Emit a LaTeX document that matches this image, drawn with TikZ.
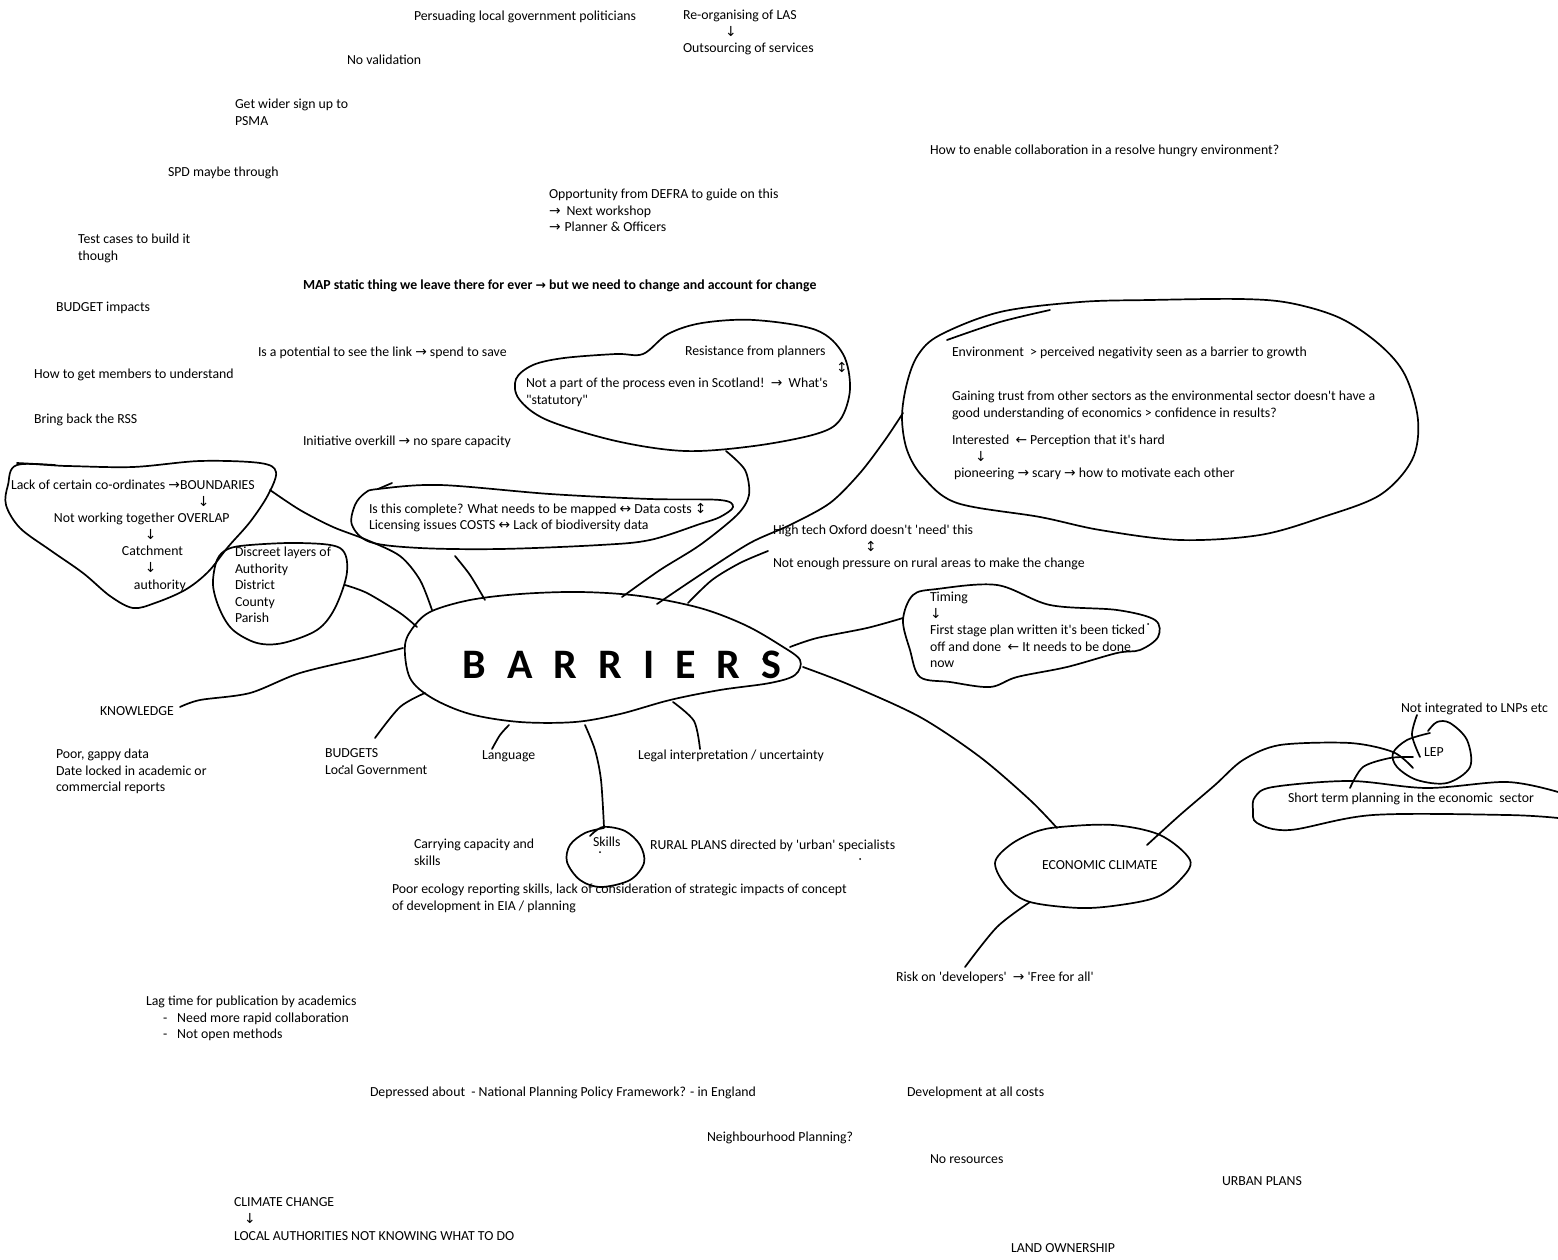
\documentclass[tikz,border=0pt]{standalone}
\usepackage{fontspec}
\newfontfamily\cf{Carlito}
\newfontfamily\arw{DejaVu Sans}[Scale=1.0]
\newfontfamily\arwb{DejaVu Sans Bold}[Scale=0.9]
\newcommand\rA{{\arw →}}
\newcommand\lA{{\arw ←}}
\newcommand\dA{{\arw ↓}}
\newcommand\lrA{{\arw ↔}}
\newcommand\udA{{\arw ↕}}
\newcommand\fs{\cf\fontsize{13.8}{16.6}\selectfont}
\newcommand\st{\rule{0pt}{10.3pt}}
\begin{document}
\begin{tikzpicture}[x=1pt,y=-1pt,
  txt/.style={anchor=north west, inner sep=0pt, outer sep=0pt, align=left, font=\fs, execute at begin node=\st},
  blob/.style={draw, line width=1.7pt, line join=round, line cap=round},
  conn/.style={draw, line width=1.7pt, line join=round, line cap=round}]
\useasboundingbox[fill=white] (0,0) rectangle (1558,1260);

% ---------- texts ----------
\node[txt] (n1) at (414,10) {Persuading local government politicians};
\node[txt] (n2) at (683,10) {Re-organising of LAS\\\hspace*{42pt}\dA\\Outsourcing of services};
\node[txt] (n3) at (347,54) {No validation};
\node[txt] (n4) at (235,99) {Get wider sign up to\\PSMA};
\node[txt] (n5) at (168,166) {SPD maybe through};
\node[txt] (n6) at (930,144) {How to enable collaboration in a resolve hungry environment?};
\node[txt] (n7) at (549,189) {Opportunity from DEFRA to guide on this\\\rA\hspace*{6pt}Next workshop\\\rA\hspace*{4pt}Planner \& Officers};
\node[txt] (n8) at (78,234) {Test cases to build it\\though};
\node[txt] (n9) at (303,279) {\bfseries MAP static thing we leave there for ever {\arwb →} but we need to change and account for change};
\node[txt] (n10) at (56,301) {BUDGET impacts};
\node[txt] (n11) at (258,346) {Is a potential to see the link \rA\ spend to save};
\node[txt] (n12) at (34,368) {How to get members to understand};
\node[txt] (n13) at (34,413) {Bring back the RSS};
\node[txt] (n14) at (303,435) {Initiative overkill \rA\ no spare capacity};
\node[txt] (n15) at (685,346) {Resistance from planners\\\hspace*{151pt}\udA};
\node[txt] (n16) at (526,378) {Not a part of the process even in Scotland!\ \ \rA\ \ What's\\"statutory"};
\node[txt] (n17) at (952,346) {Environment\ \ > perceived negativity seen as a barrier to growth};
\node[txt] (n18) at (952,391) {Gaining trust from other sectors as the environmental sector doesn't have a\\good understanding of economics > confidence in results?};
\node[txt] (n19) at (952,435) {Interested\ \ \lA\ Perception that it's hard\\\hspace*{23pt}\dA\\\hspace*{2pt}pioneering \rA\ scary \rA\ how to motivate each other};
\node[txt] (n20) at (11,480) {Lack of certain co-ordinates \rA BOUNDARIES\\\hspace*{187pt}\dA\\\hspace*{43pt}Not working together OVERLAP\\\hspace*{134pt}\dA\\\hspace*{111pt}Catchment\\\hspace*{134pt}\dA\\\hspace*{123pt}authority};
\node[txt] (n21) at (235,547) {Discreet layers of\\Authority\\District\\County\\Parish};
\node[txt] (n22) at (369,503) {Is this complete? What needs to be mapped \lrA\ Data costs \udA\\Licensing issues COSTS \lrA\ Lack of biodiversity data};
\node[txt] (n23) at (773,525) {High tech Oxford doesn't 'need' this\\\hspace*{92pt}\udA\\Not enough pressure on rural areas to make the change};
\node[txt] (n24) at (930,592) {Timing\\\dA\\First stage plan written it's been ticked\\off and done\ \ \lA\ It needs to be done\\now};
\node[inner sep=0pt, font=\cf\fontsize{42}{46}\selectfont\bfseries] (bar) at (622,665)
  {B\hspace{21pt}A\hspace{21pt}R\hspace{21pt}R\hspace{21pt}I\hspace{21pt}E\hspace{21pt}R\hspace{21pt}S};
\node[txt] (n25) at (100,705) {KNOWLEDGE};
\node[txt] (n26) at (56,749) {Poor, gappy data\\Date locked in academic or\\commercial reports};
\node[txt] (n27) at (325,749) {BUDGETS\\Local Government};
\node[txt] (n28) at (482,749) {Language};
\node[txt] (n29) at (638,749) {Legal interpretation / uncertainty};
\node[txt] (n30) at (1401,702) {Not integrated to LNPs etc};
\node[txt] (n31) at (1424,746) {LEP};
\node[txt] (n32) at (1288,792) {Short term planning in the economic\ \ sector};
\node[txt] (n33) at (414,839) {Carrying capacity and\\skills};
\node[txt] (n34) at (593,836) {Skills};
\node[txt] (n35) at (650,839) {RURAL PLANS directed by 'urban' specialists};
\node[txt] (n36) at (392,884) {Poor ecology reporting skills, lack of consideration of strategic impacts of concept\\of development in EIA / planning};
\node[txt] (n37) at (1042,859) {ECONOMIC CLIMATE};
\node[txt] (n38) at (896,971) {Risk on 'developers'\ \ \rA\ 'Free for all'};
\node[txt] (n39) at (146,996) {Lag time for publication by academics\\\hspace*{17pt}-\hspace*{10pt}Need more rapid collaboration\\\hspace*{17pt}-\hspace*{10pt}Not open methods};
\node[txt] (n40) at (370,1086) {Depressed about\ \ - National Planning Policy Framework? - in England};
\node[txt] (n41) at (907,1086) {Development at all costs};
\node[txt] (n42) at (707,1131) {Neighbourhood Planning?};
\node[txt] (n43) at (930,1153) {No resources};
\node[txt] (n44) at (1222,1175) {URBAN PLANS};
\node[txt] (n45) at (234,1198) {CLIMATE CHANGE\\\hspace*{10pt}\dA\\LOCAL AUTHORITIES NOT KNOWING WHAT TO DO};
\node[txt] (n46) at (1011,1242) {LAND OWNERSHIP};

% ---------- blobs ----------
% BARRIERS
\draw[blob] plot[smooth cycle, tension=0.55] coordinates {(405,645) (415,625) (432,611) (470,600) (520,594) (580,592) (640,596) (700,608) (745,625) (780,645) (800,660) (795,675) (770,683) (720,690) (670,700) (620,714) (575,722) (520,722) (470,714) (432,698) (410,678)};
% BOUNDARIES
\draw[blob] plot[smooth cycle, tension=0.55] coordinates {(17,465) (8,485) (6,505) (20,528) (50,550) (83,573) (110,596) (133,608) (155,603) (185,590) (208,572) (228,547) (250,522) (268,495) (276,472) (260,463) (200,461) (133,467) (67,466)};
\draw[blob] (17,463) -- (55,465);
% Discreet
\draw[blob] plot[smooth cycle, tension=0.55] coordinates {(217,560) (228,549) (250,545) (300,543) (340,548) (347,572) (335,608) (317,630) (283,643) (257,643) (233,630) (220,610) (213,585)};
% Is this complete
\draw[blob] plot[smooth cycle, tension=0.55] coordinates {(378,489) (440,485) (550,494) (650,499) (720,500) (733,507) (720,517) (700,524) (650,540) (600,545) (500,549) (420,548) (370,542) (352,525) (355,505) (365,493)};
\draw[blob] (378,489) -- (392,483);
% Resistance
\draw[blob] plot[smooth cycle, tension=0.55] coordinates {(643,354) (668,334) (702,323) (754,320) (816,330) (843,354) (850,389) (840,420) (816,434) (754,446) (685,451) (616,441) (547,420) (519,399) (516,379) (533,365) (564,358) (616,354)};
% Environment
\draw[blob] plot[smooth cycle, tension=0.55] coordinates {(940,335) (918,355) (907,383) (902,417) (907,450) (923,477) (957,503) (1040,517) (1100,530) (1180,540) (1260,535) (1323,517) (1380,495) (1412,460) (1418,420) (1405,375) (1380,345) (1340,318) (1290,303) (1240,299) (1150,300) (1080,302) (1000,312)};
\draw[blob] plot[smooth] coordinates {(947,340) (1000,322) (1050,310)};
% Timing
\draw[blob] plot[smooth cycle, tension=0.55] coordinates {(903,620) (913,595) (937,589) (997,585) (1050,605) (1117,610) (1155,620) (1158,637) (1140,650) (1117,653) (1067,667) (1017,677) (990,687) (950,682) (920,677) (910,650)};
% Economic climate
\draw[blob] plot[smooth cycle, tension=0.55] coordinates {(995,863) (1010,845) (1035,832) (1060,827) (1113,825) (1160,835) (1190,860) (1180,880) (1157,897) (1120,905) (1080,908) (1030,902) (1007,887)};
% Skills
\draw[blob] plot[smooth, tension=0.55] coordinates {(590,836) (603,827) (625,831) (640,845) (644,863) (630,880) (601,887) (580,880) (567,862) (570,845) (585,833) (604,828)};
% LEP loop
\draw[blob] plot[smooth, tension=0.55] coordinates {(1430,733) (1407,740) (1393,753) (1397,767) (1417,780) (1447,783) (1470,767) (1467,740) (1450,723) (1437,722) (1428,731)};
% Short term
\draw[blob] plot[smooth, tension=0.55] coordinates {(1558,792) (1507,782) (1427,788) (1350,781) (1273,787) (1255,797) (1253,810) (1257,823) (1290,830) (1373,815) (1507,815) (1558,818)};

% stray dots
\foreach \p in {(763,659),(1148,624),(600,852),(860,859),(343,766)} \fill \p circle (1pt);

% ---------- connectors ----------
\draw[conn] plot[smooth] coordinates {(270,490) (300,510) (333,527) (367,540) (400,556) (420,580) (432,610)};
\draw[conn] plot[smooth] coordinates {(345,585) (367,593) (400,613) (417,627)};
\draw[conn] plot[smooth] coordinates {(455,556) (470,575) (485,600)};
\draw[conn] plot[smooth] coordinates {(726,451) (745,470) (749,495) (737,515) (700,545) (660,570) (622,597)};
\draw[conn] plot[smooth] coordinates {(657,604) (700,575) (750,543) (790,525) (830,503) (860,473) (885,440) (903,413)};
\draw[conn] plot[smooth] coordinates {(688,603) (712,580) (740,563) (768,551)};
\draw[conn] plot[smooth] coordinates {(790,647) (817,638) (867,628) (903,618)};
\draw[conn] plot[smooth] coordinates {(803,667) (850,685) (920,717) (980,757) (1030,800) (1057,828)};
\draw[conn] plot[smooth] coordinates {(180,707) (200,700) (250,693) (300,673) (367,657) (403,648)};
\draw[conn] plot[smooth] coordinates {(375,738) (400,707) (425,693)};
\draw[conn] plot[smooth] coordinates {(492,749) (500,735) (509,725)};
\draw[conn] plot[smooth] coordinates {(585,725) (595,750) (601,780) (604,827)};
\draw[conn] plot[smooth] coordinates {(673,702) (694,721) (700,749)};
\draw[conn] plot[smooth] coordinates {(1147,845) (1180,815) (1215,785) (1243,760) (1280,745) (1350,743) (1393,752) (1413,768)};
\draw[conn] plot[smooth] coordinates {(1350,788) (1363,767) (1390,758) (1413,757)};
\draw[conn] plot[smooth] coordinates {(1417,715) (1412,735) (1420,757)};
\draw[conn] plot[smooth] coordinates {(1030,902) (997,927) (965,967)};
\end{tikzpicture}
\end{document}
